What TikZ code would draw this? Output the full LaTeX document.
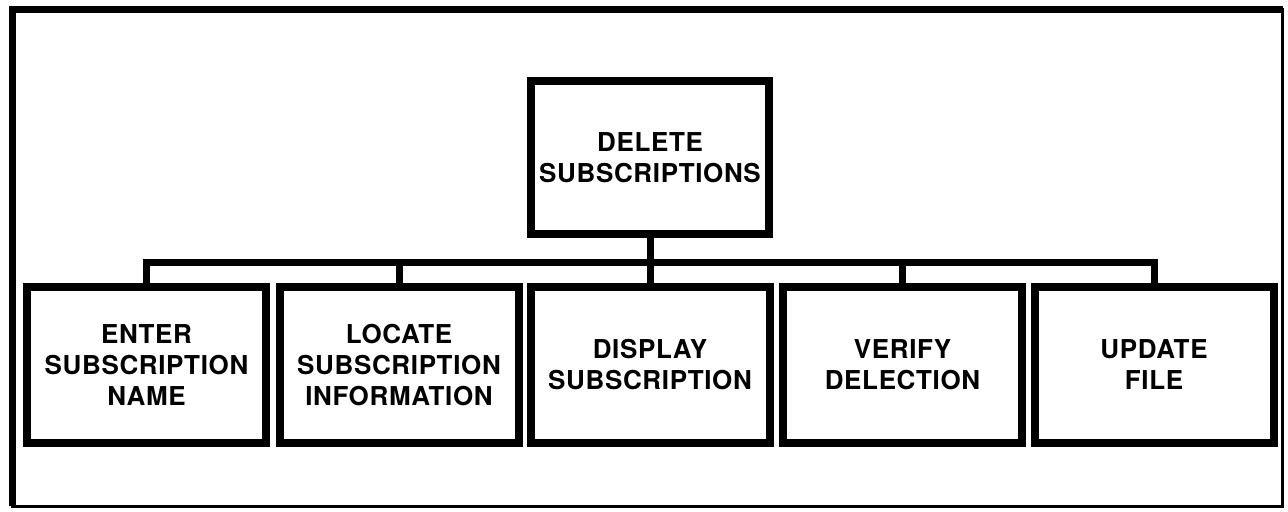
\documentclass[tikz,border=0pt]{standalone}
\usepackage{fontspec}
\setmainfont{TeX Gyre Heros}[LetterSpace=2.5]
\begin{document}
\begin{tikzpicture}[
        x=0.5pt, y=-0.5pt,
        font=\fontsize{13}{15.5}\selectfont\bfseries,
        task/.style = {
            draw, line width=4pt, align=center, inner sep=0pt,
            minimum width=119.5pt, minimum height=78pt
        },
        link/.style = {line width=3.5pt, line join=miter}
    ]
        \useasboundingbox (0,0) rectangle (1288,511);

        % outer frame
        \draw[line width=1.5pt] (12,9) -- (1282,9) -- (1282,506) -- (12,506) -- cycle;
        \draw[line width=3.5pt] (12,506) -- (12,9.5) -- (1283,9.5);

        \node[task, minimum width=119pt, minimum height=76.5pt] (delete) at (650,157.5) {DELETE\\SUBSCRIPTIONS};

        \node[task] (enter)   at ( 146.5,365) {ENTER\\SUBSCRIPTION\\NAME};
        \node[task] (locate)  at ( 399,365) {LOCATE\\SUBSCRIPTION\\INFORMATION};
        \node[task] (display) at ( 650,365) {DISPLAY\\SUBSCRIPTION};
        \node[task] (verify)  at ( 902.5,365) {VERIFY\\DELECTION};
        \node[task] (update)  at (1154,365) {UPDATE\\FILE};

        \coordinate (bus) at (650,262);

        \draw[link] (delete.south) -- (display.north);
        \draw[link] (enter.north) |- (bus) -| (update.north);
        \draw[link] (locate.north) -- (locate.north |- bus);
        \draw[link] (verify.north) -- (verify.north |- bus);
    \end{tikzpicture}
\end{document}
